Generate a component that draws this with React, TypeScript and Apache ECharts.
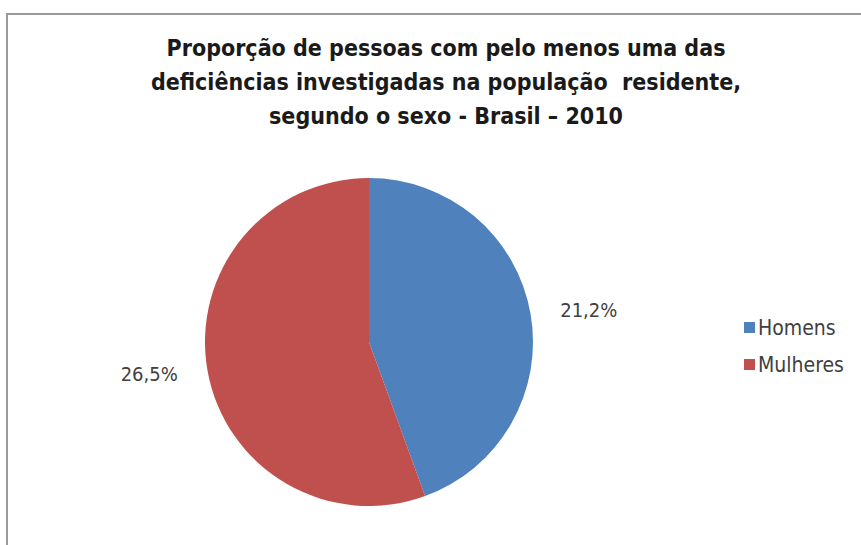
import React, { useEffect, useRef } from "react";
import * as echarts from "echarts";

const titleLines = [
  "Proporção de pessoas com pelo menos uma das",
  "deficiências investigadas na população  residente,",
  "segundo o sexo - Brasil – 2010",
];
const categories = ["Homens", "Mulheres"];
const values = [21.2, 26.5];
const colors = ["#4F81BD", "#C0504D"];

const FONT = "'Liberation Sans Narrow', 'DejaVu Sans Condensed', 'Liberation Sans', sans-serif";

export default function App() {
  const ref = useRef<HTMLDivElement>(null);
  useEffect(() => {
    if (!ref.current) return;
    const chart = echarts.init(ref.current, undefined, { renderer: "svg" });
    chart.setOption({
      animation: false,
      backgroundColor: "#ffffff",
      title: {
        text: titleLines.join("\n"),
        left: 441,
        textAlign: "center",
        top: 26,
        textStyle: {
          fontFamily: FONT,
          fontWeight: "bold",
          fontSize: 23,
          lineHeight: 34,
          color: "#1a1a1a",
        },
      },
      legend: {
        orient: "vertical",
        left: 739,
        top: 312,
        itemWidth: 11,
        itemHeight: 11,
        itemGap: 16,
        icon: "rect",
        textStyle: { fontFamily: FONT, fontSize: 21, color: "#404040", padding: [0, 0, 0, -2] },
        data: categories,
      },
      graphic: [
        {
          type: "polyline",
          shape: { points: [[7, 545], [7, 14], [861, 14]] },
          style: { stroke: "#9a9a9a", lineWidth: 2, fill: "none" },
          silent: true,
        },
      ],
      series: [
        {
          type: "pie",
          center: [369, 342],
          radius: 164,
          startAngle: 90,
          clockwise: true,
          data: categories.map((c, i) => ({
            name: c,
            value: values[i],
            itemStyle: { color: colors[i] },
          })),
          label: {
            show: true,
            position: "outside",
            formatter: (p: any) => String(p.value.toFixed(1)).replace(".", ",") + "%",
            fontFamily: FONT,
            fontSize: 20,
            color: "#404040",
            distanceToLabelLine: 2,
          },
          labelLine: { show: false, length: 20, length2: 8 },
          emphasis: { disabled: true },
        },
      ],
    });
    return () => chart.dispose();
  }, []);
  return (
    <div
      ref={ref}
      style={{ position: "absolute", left: 0, top: 0, width: 861, height: 545 }}
    />
  );
}
